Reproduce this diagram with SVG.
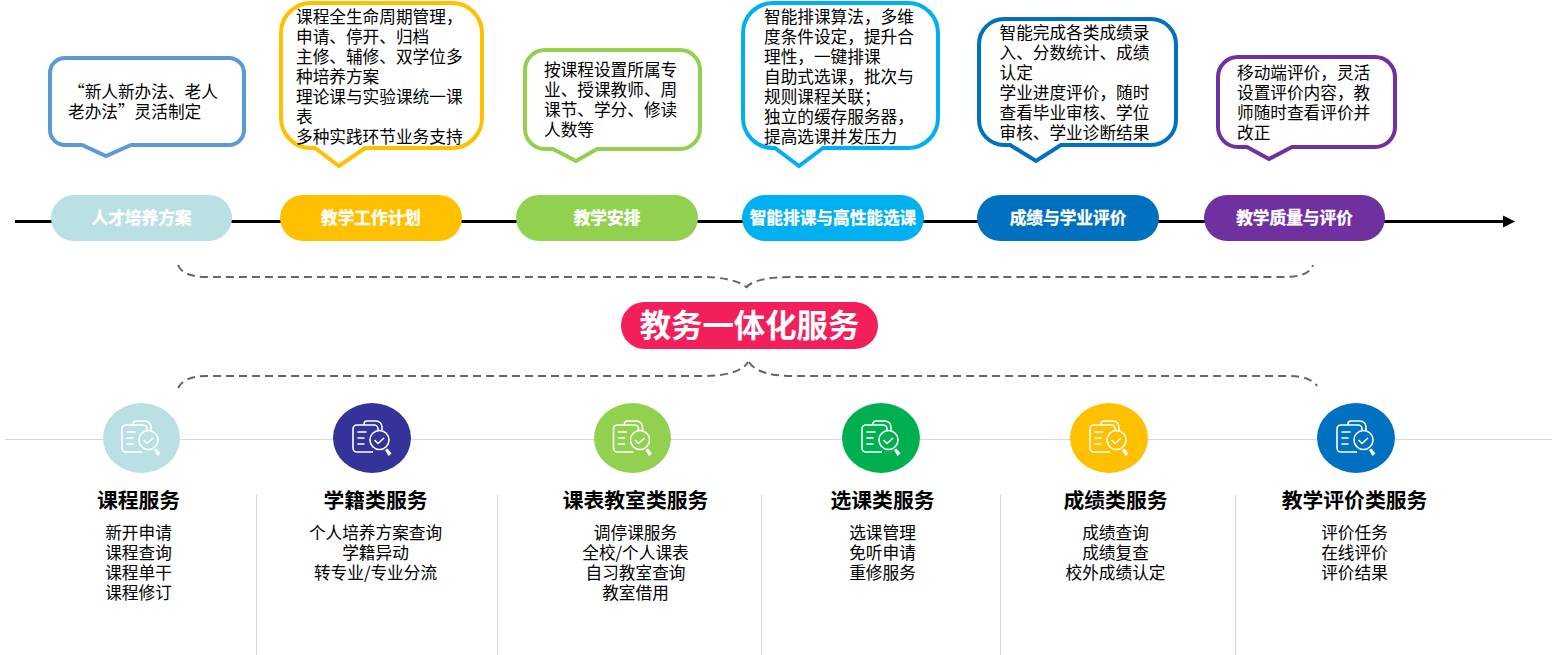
<svg xmlns="http://www.w3.org/2000/svg" width="1552" height="655" viewBox="0 0 1552 655">
<style>
text{font-family:"Noto Sans CJK SC","Noto Sans",sans-serif;fill:#000}
.b{font-size:16.67px}
.bub{fill:#fff;stroke-width:4;stroke-linejoin:miter}
.pill{font-size:16.67px;font-weight:700;fill:#fff;text-anchor:middle;stroke:#fff;stroke-width:.3px}
.h{font-size:20.8px;font-weight:700;text-anchor:middle}
.c{text-anchor:middle}
.dash{fill:none;stroke:#666;stroke-width:2;stroke-dasharray:8 5}
.rule{stroke:#d9d9d9;stroke-width:1;fill:none}
.ic{fill:none;stroke:#fff;stroke-width:1.600}
</style>
<defs>
<marker id="arr" markerUnits="userSpaceOnUse" markerWidth="12" markerHeight="14" refX="0" refY="7" orient="auto"><path d="M0 1L12 7L0 13Z" fill="#000"/></marker>
<g id="icon">
<path class="ic" d="M-8-13V-14a3 3 0 0 1 3-3H4a6 6 0 0 1 6 6V-8"/>
<path class="ic" d="M1 14H-15a4 4 0 0 1-4-4V-9a4 4 0 0 1 4-4H2a4 4 0 0 1 4 4V-8"/>
<path class="ic" d="M-14-6h8M-14 0h6M-14 6h6" stroke-linecap="round"/>
<circle class="ic" cx="7.500" cy="2" r="9.500"/>
<path class="ic" d="M2.500 2l3.500 3.500 6-5.500" stroke-width="1.900"/>
<path d="M13 12l2.500-1.500 4 5-3 2.500z" fill="#fff"/>
</g>
</defs>

<g id="connectors">
<path d="M15 221.500H1503" stroke="#000" stroke-width="3" fill="none" marker-end="url(#arr)"/>
<path class="dash" d="M178 265C181 273 192 277 206 277H702C722 277 740 281 746 287"/>
<path class="dash" d="M746 288C750 281 768 277 790 277H1285C1300 277 1311 273 1313 265"/>
<path class="dash" d="M178 388C182 380 192 376 206 376H702C725 376 742 372 748 362"/>
<path class="dash" d="M749 362C755 372 772 376 792 376H1290C1304 376 1313 380 1317 386"/>
<path class="rule" d="M5 439.500H1552"/>
<path class="rule" d="M256.500 495V655M497.500 495V655M761.500 495V655M1000.500 495V655M1235.500 495V655"/>
</g>

<g id="bubble-1"><path class="bub" stroke="#5B9BD5" d="M65 58H229A15 15 0 0 1 244 73V130A15 15 0 0 1 229 145H131L106 156L82 145H65A15 15 0 0 1 50 130V73A15 15 0 0 1 65 58Z"/>
<text class="b" x="68"><tspan x="68" y="98">“新人新办法、老人</tspan><tspan x="68" y="118">老办法”灵活制定</tspan></text></g>

<g id="bubble-2"><path class="bub" stroke="#FFC000" d="M311 3H452A30 30 0 0 1 482 33V118A30 30 0 0 1 452 148H365L339 166L315 148H311A30 30 0 0 1 281 118V33A30 30 0 0 1 311 3Z"/>
<text class="b"><tspan x="296" y="23">课程全生命周期管理，</tspan><tspan x="296" y="43">申请、停开、归档</tspan><tspan x="296" y="63">主修、辅修、双学位多</tspan><tspan x="296" y="83">种培养方案</tspan><tspan x="296" y="103">理论课与实验课统一课</tspan><tspan x="296" y="123">表</tspan><tspan x="296" y="143">多种实践环节业务支持</tspan></text></g>

<g id="bubble-3"><path class="bub" stroke="#92D050" d="M545 50H680A20 20 0 0 1 700 70V129A20 20 0 0 1 680 149H597L576 161L553 149H545A20 20 0 0 1 525 129V70A20 20 0 0 1 545 50Z"/>
<text class="b"><tspan x="544" y="76">按课程设置所属专</tspan><tspan x="544" y="96">业、授课教师、周</tspan><tspan x="544" y="116">课节、学分、修读</tspan><tspan x="544" y="136">人数等</tspan></text></g>

<g id="bubble-4"><path class="bub" stroke="#00B0F0" d="M773 3H908A30 30 0 0 1 938 33V118A30 30 0 0 1 908 148H823L799 166L775 148H773A30 30 0 0 1 743 118V33A30 30 0 0 1 773 3Z"/>
<text class="b"><tspan x="764" y="23">智能排课算法，多维</tspan><tspan x="764" y="43">度条件设定，提升合</tspan><tspan x="764" y="63">理性，一键排课</tspan><tspan x="764" y="83">自助式选课，批次与</tspan><tspan x="764" y="103">规则课程关联；</tspan><tspan x="764" y="123">独立的缓存服务器，</tspan><tspan x="764" y="143">提高选课并发压力</tspan></text></g>

<g id="bubble-5"><path class="bub" stroke="#0070C0" d="M1004 19H1151A25 25 0 0 1 1176 44V120A25 25 0 0 1 1151 145H1061L1036 161L1010 145H1004A25 25 0 0 1 979 120V44A25 25 0 0 1 1004 19Z"/>
<text class="b"><tspan x="999.500" y="39">智能完成各类成绩录</tspan><tspan x="999.500" y="59">入、分数统计、成绩</tspan><tspan x="999.500" y="79">认定</tspan><tspan x="999.500" y="99">学业进度评价，随时</tspan><tspan x="999.500" y="119">查看毕业审核、学位</tspan><tspan x="999.500" y="139">审核、学业诊断结果</tspan></text></g>

<g id="bubble-6"><path class="bub" stroke="#7030A0" d="M1238 57H1375A20 20 0 0 1 1395 77V127A20 20 0 0 1 1375 147H1292L1269 159L1247 147H1238A20 20 0 0 1 1218 127V77A20 20 0 0 1 1238 57Z"/>
<text class="b"><tspan x="1237" y="79">移动端评价，灵活</tspan><tspan x="1237" y="99">设置评价内容，教</tspan><tspan x="1237" y="119">师随时查看评价并</tspan><tspan x="1237" y="139">改正</tspan></text></g>

<g id="stage-1"><rect x="51" y="195" width="181" height="46" rx="23" fill="#BBE0E3"/><text class="pill" x="141.500" y="224">人才培养方案</text></g>
<g id="stage-2"><rect x="280" y="195" width="182" height="46" rx="23" fill="#FFC000"/><text class="pill" x="371" y="224">教学工作计划</text></g>
<g id="stage-3"><rect x="516" y="195" width="182" height="46" rx="23" fill="#92D050"/><text class="pill" x="607" y="224">教学安排</text></g>
<g id="stage-4"><rect x="742" y="195" width="182" height="46" rx="23" fill="#00B0F0"/><text class="pill" x="833" y="224">智能排课与高性能选课</text></g>
<g id="stage-5"><rect x="977" y="195" width="182" height="46" rx="23" fill="#0070C0"/><text class="pill" x="1068" y="224">成绩与学业评价</text></g>
<g id="stage-6"><rect x="1204" y="195" width="181" height="46" rx="23" fill="#7030A0"/><text class="pill" x="1294.500" y="224">教学质量与评价</text></g>

<g id="hub"><rect x="621" y="302" width="257" height="47" rx="23.500" fill="#F21F5B"/><text x="749.500" y="336.500" text-anchor="middle" font-size="31.400" font-weight="700" style="fill:#fff">教务一体化服务</text></g>

<g id="service-1"><ellipse cx="141.500" cy="438" rx="38.500" ry="35" fill="#BBE0E3"/><use href="#icon" x="141" y="438"/>
<text class="h" x="138.500" y="508">课程服务</text>
<text class="b c"><tspan x="138.500" y="539">新开申请</tspan><tspan x="138.500" y="559">课程查询</tspan><tspan x="138.500" y="579">课程单干</tspan><tspan x="138.500" y="599">课程修订</tspan></text></g>

<g id="service-2"><ellipse cx="372" cy="438" rx="39" ry="35" fill="#333399"/><use href="#icon" x="372" y="438"/>
<text class="h" x="375.500" y="508">学籍类服务</text>
<text class="b c"><tspan x="375.500" y="539">个人培养方案查询</tspan><tspan x="375.500" y="559">学籍异动</tspan><tspan x="375.500" y="579">转专业/专业分流</tspan></text></g>

<g id="service-3"><ellipse cx="632.500" cy="438" rx="38.500" ry="35" fill="#92D050"/><use href="#icon" x="632.500" y="438"/>
<text class="h" x="635.500" y="508">课表教室类服务</text>
<text class="b c"><tspan x="635.500" y="539">调停课服务</tspan><tspan x="635.500" y="559">全校/个人课表</tspan><tspan x="635.500" y="579">自习教室查询</tspan><tspan x="635.500" y="599">教室借用</tspan></text></g>

<g id="service-4"><ellipse cx="881" cy="438" rx="39" ry="35" fill="#00B050"/><use href="#icon" x="881" y="438"/>
<text class="h" x="882.500" y="508">选课类服务</text>
<text class="b c"><tspan x="882.500" y="539">选课管理</tspan><tspan x="882.500" y="559">免听申请</tspan><tspan x="882.500" y="579">重修服务</tspan></text></g>

<g id="service-5"><ellipse cx="1109" cy="438" rx="39" ry="35" fill="#FFC000"/><use href="#icon" x="1109" y="438"/>
<text class="h" x="1115.500" y="508">成绩类服务</text>
<text class="b c"><tspan x="1115.500" y="539">成绩查询</tspan><tspan x="1115.500" y="559">成绩复查</tspan><tspan x="1115.500" y="579">校外成绩认定</tspan></text></g>

<g id="service-6"><ellipse cx="1356" cy="438" rx="39" ry="35" fill="#0070C0"/><use href="#icon" x="1356" y="438"/>
<text class="h" x="1354.500" y="508">教学评价类服务</text>
<text class="b c"><tspan x="1354.500" y="539">评价任务</tspan><tspan x="1354.500" y="559">在线评价</tspan><tspan x="1354.500" y="579">评价结果</tspan></text></g>
</svg>
